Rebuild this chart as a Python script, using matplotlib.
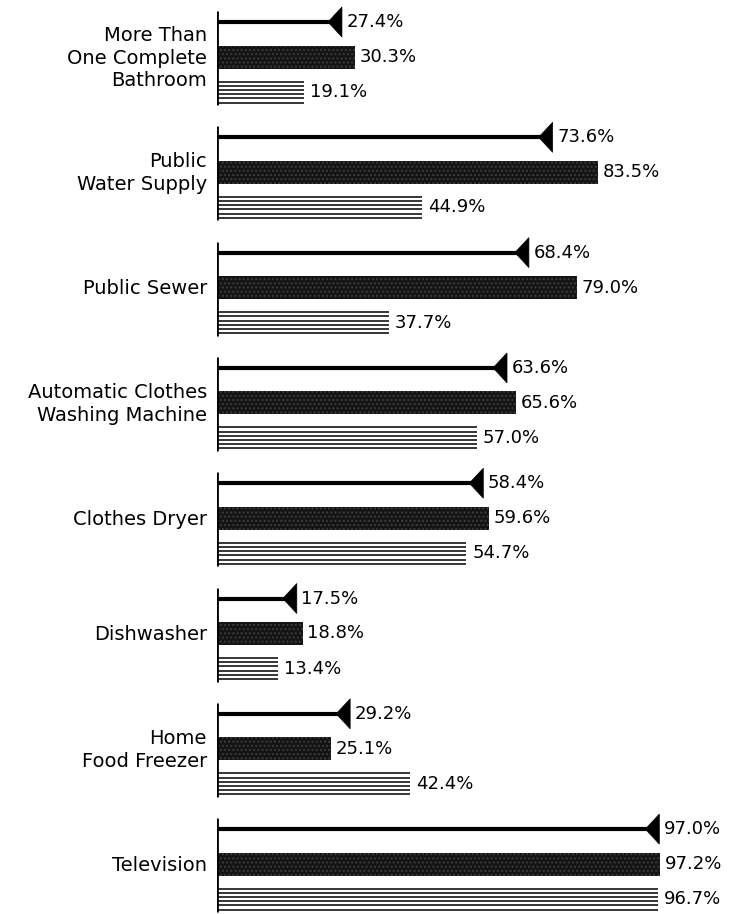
import matplotlib
matplotlib.use("Agg")
import matplotlib.pyplot as plt
from matplotlib.patches import Polygon
import numpy as np

categories = [
    "More Than\nOne Complete\nBathroom",
    "Public\nWater Supply",
    "Public Sewer",
    "Automatic Clothes\nWashing Machine",
    "Clothes Dryer",
    "Dishwasher",
    "Home\nFood Freezer",
    "Television",
]
arrow_values = [27.4, 73.6, 68.4, 63.6, 58.4, 17.5, 29.2, 97.0]
solid_values = [30.3, 83.5, 79.0, 65.6, 59.6, 18.8, 25.1, 97.2]
lined_values = [19.1, 44.9, 37.7, 57.0, 54.7, 13.4, 42.4, 96.7]

W, H, DPI = 737, 914, 100
fig = plt.figure(figsize=(W / DPI, H / DPI), dpi=DPI)
fig.patch.set_facecolor("white")

PX_PER_PCT = 4.56
ax_left = 217
ax_w = 100 * PX_PER_PCT
ax = fig.add_axes([ax_left / W, 0, ax_w / W, 1])
ax.set_xlim(0, 100)
period = 115.3
first = 22
ax.set_ylim((H - first) / period, -first / period)
ax.axis("off")

u = 1 / period  # one pixel in y data units
solid_off = 35 * u
lined_off = 70 * u
solid_h = 23 * u
lined_h = 21 * u
tri_half = 15 * u
tri_w = 14 / PX_PER_PCT

fs_val = 13
fs_lab = 14
font = "DejaVu Sans"

for i, cat in enumerate(categories):
    y0 = i
    # group axis segment
    ax.plot([0, 0], [y0 - 11 * u, y0 + 83 * u], color="black", lw=2.0,
            solid_capstyle="butt", zorder=5)

    # arrow series
    a = arrow_values[i]
    ax.plot([0, a - tri_w * 0.6], [y0, y0], color="black", lw=3.0,
            solid_capstyle="butt", zorder=3)
    tri = Polygon([(a, y0 - tri_half), (a, y0 + tri_half), (a - tri_w, y0)],
                  closed=True, facecolor="black", edgecolor="black", lw=0.5, zorder=4)
    ax.add_patch(tri)
    ax.text(a + 1.0, y0, f"{a:.1f}%", va="center", ha="left",
            fontsize=fs_val, family=font, color="black")

    # solid series
    s = solid_values[i]
    ax.barh(y0 + solid_off, s, height=solid_h, left=0, color="#141414",
            edgecolor="#3c3c3c", hatch="....", linewidth=0, zorder=3)
    ax.text(s + 1.0, y0 + solid_off, f"{s:.1f}%", va="center", ha="left",
            fontsize=fs_val, family=font, color="black")

    # lined series
    l = lined_values[i]
    ys = y0 + lined_off + np.linspace(-lined_h / 2, lined_h / 2, 6)
    ax.hlines(ys, 0, l, color="black", lw=1.1, zorder=3)
    ax.text(l + 1.3, y0 + lined_off, f"{l:.1f}%", va="center", ha="left",
            fontsize=fs_val, family=font, color="black")

    # category label
    ax.text(-2.2, y0 + 36 * u, cat, va="center", ha="right",
            fontsize=fs_lab, family=font, color="black", linespacing=1.25,
            multialignment="right")

fig.savefig("out.png", dpi=DPI, facecolor="white")
